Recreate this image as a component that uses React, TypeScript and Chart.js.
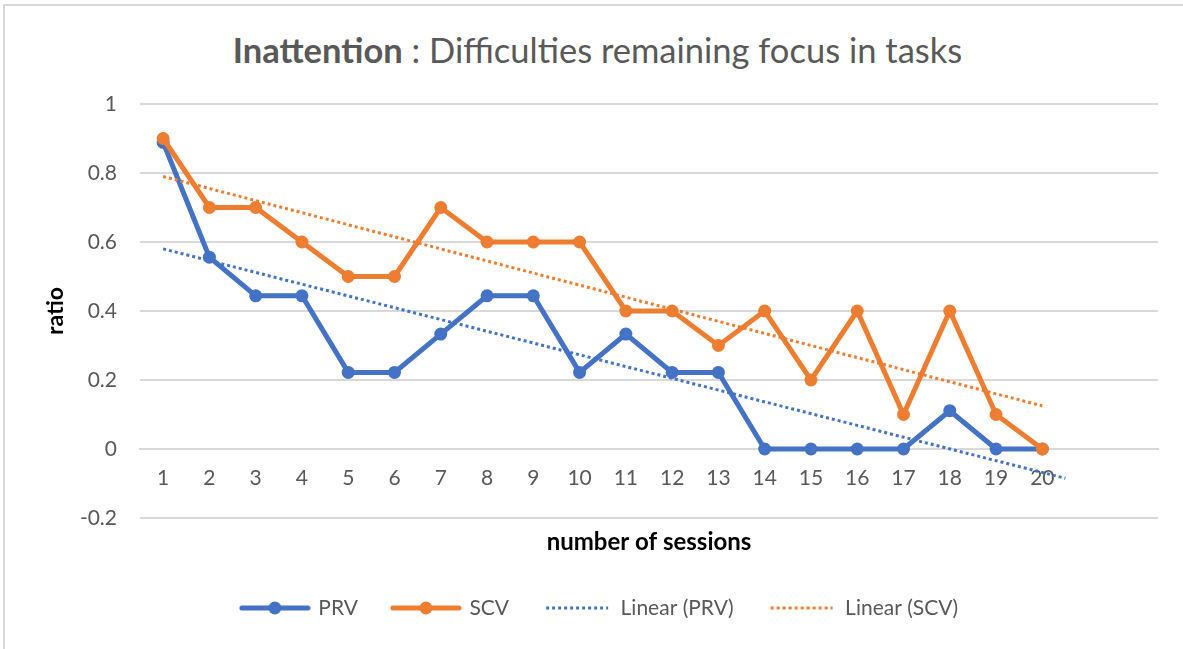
import React, { useEffect, useRef } from "react";
import { Chart, registerables } from "chart.js";

Chart.register(...registerables);

const sessions = [1, 2, 3, 4, 5, 6, 7, 8, 9, 10, 11, 12, 13, 14, 15, 16, 17, 18, 19, 20];
const prvValues = [0.889, 0.556, 0.444, 0.444, 0.222, 0.222, 0.333, 0.444, 0.444, 0.222, 0.333, 0.222, 0.222, 0, 0, 0, 0, 0.111, 0, 0];
const scvValues = [0.9, 0.7, 0.7, 0.6, 0.5, 0.5, 0.7, 0.6, 0.6, 0.6, 0.4, 0.4, 0.3, 0.4, 0.2, 0.4, 0.1, 0.4, 0.1, 0];
const prvTrendX = [1, 20.5];
const prvTrendY = [0.58, -0.085];
const scvTrendX = [1, 20];
const scvTrendY = [0.79, 0.125];
const yTicks = [-0.2, 0, 0.2, 0.4, 0.6, 0.8, 1];
const seriesNames = ["PRV", "SCV", "Linear (PRV)", "Linear (SCV)"];

const BLUE = "#4472C4";
const ORANGE = "#ED7D31";
const GRID = "#d9d9d9";
const TEXT = "#595959";
const FONT = "Lato, 'Open Sans', sans-serif";

function markerSample(color: string): HTMLCanvasElement {
  const c = document.createElement("canvas");
  c.width = 72;
  c.height = 16;
  const ctx = c.getContext("2d")!;
  ctx.strokeStyle = color;
  ctx.lineWidth = 5;
  ctx.lineCap = "round";
  ctx.beginPath();
  ctx.moveTo(3, 8);
  ctx.lineTo(69, 8);
  ctx.stroke();
  ctx.fillStyle = color;
  ctx.beginPath();
  ctx.arc(36, 8, 6.5, 0, Math.PI * 2);
  ctx.fill();
  return c;
}

function dottedSample(color: string): HTMLCanvasElement {
  const c = document.createElement("canvas");
  c.width = 64;
  c.height = 8;
  const ctx = c.getContext("2d")!;
  ctx.strokeStyle = color;
  ctx.lineWidth = 3;
  ctx.setLineDash([3, 3]);
  ctx.beginPath();
  ctx.moveTo(1, 4);
  ctx.lineTo(63, 4);
  ctx.stroke();
  return c;
}

export default function App() {
  const ref = useRef<HTMLCanvasElement | null>(null);

  useEffect(() => {
    if (!ref.current) return;
    const samples = [markerSample(BLUE), markerSample(ORANGE), dottedSample(BLUE), dottedSample(ORANGE)];
    const toPts = (xs: number[], ys: number[]) => xs.map((x, i) => ({ x, y: ys[i] }));

    const chart = new Chart(ref.current, {
      type: "line",
      data: {
        datasets: [
          {
            label: seriesNames[0],
            data: toPts(sessions, prvValues),
            borderColor: BLUE,
            backgroundColor: BLUE,
            borderWidth: 5,
            pointRadius: 6.5,
            pointBorderWidth: 0,
            pointBackgroundColor: BLUE,
            tension: 0,
            order: 3,
          },
          {
            label: seriesNames[1],
            data: toPts(sessions, scvValues),
            borderColor: ORANGE,
            backgroundColor: ORANGE,
            borderWidth: 5,
            pointRadius: 6.5,
            pointBorderWidth: 0,
            pointBackgroundColor: ORANGE,
            tension: 0,
            order: 2,
          },
          {
            label: seriesNames[2],
            data: toPts(prvTrendX, prvTrendY),
            borderColor: BLUE,
            backgroundColor: BLUE,
            borderWidth: 3,
            borderDash: [3, 3],
            pointRadius: 0,
            order: 1,
          },
          {
            label: seriesNames[3],
            data: toPts(scvTrendX, scvTrendY),
            borderColor: ORANGE,
            backgroundColor: ORANGE,
            borderWidth: 3,
            borderDash: [3, 3],
            pointRadius: 0,
            order: 0,
          },
        ],
      },
      options: {
        responsive: false,
        animation: false,
        events: [],
        layout: { padding: { top: 104, left: 42, right: 25, bottom: 20.5 } },
        scales: {
          x: {
            type: "linear",
            min: 0.5,
            max: 22.5,
            position: { y: 0 } as any,
            afterBuildTicks: (s: any) => {
              s.ticks = sessions.map((v) => ({ value: v }));
            },
            afterFit: (s: any) => {
              s.height = 0;
            },
            grid: { display: false, drawTicks: false },
            border: { display: true, color: GRID, width: 2 },
            ticks: {
              autoSkip: false,
              maxRotation: 0,
              padding: 17,
              color: TEXT,
              font: { family: FONT, size: 21 },
              callback: (v: any) => String(v),
            },
          },
          x2: {
            type: "linear",
            position: "bottom",
            min: 0.5,
            max: 22.5,
            afterFit: (s: any) => {
              s.height = 44.5;
            },
            grid: { display: false, drawTicks: false },
            border: { display: false },
            ticks: { display: false },
            title: {
              display: true,
              text: "number of sessions",
              color: "#000",
              font: { family: FONT, size: 24, weight: "bold" },
              padding: { top: 0, bottom: 6 },
            },
          },
          y: {
            type: "linear",
            min: -0.2,
            max: 1,
            afterBuildTicks: (s: any) => {
              s.ticks = yTicks.map((v) => ({ value: v }));
            },
            afterFit: (s: any) => {
              s.width = 98;
            },
            grid: { color: GRID, lineWidth: 2, drawTicks: false },
            border: { display: false },
            ticks: {
              padding: 23,
              color: TEXT,
              font: { family: FONT, size: 21 },
              callback: (v: any) => String(Number(Number(v).toFixed(1))),
            },
            title: {
              display: true,
              text: "ratio",
              color: "#000",
              font: { family: FONT, size: 23, weight: "bold" },
              padding: { top: 0, bottom: 0 },
            },
          },
        },
        plugins: {
          title: { display: false },
          tooltip: { enabled: false },
          legend: {
            display: true,
            position: "bottom",
            labels: {
              usePointStyle: true,
              pointStyleWidth: 66,
              padding: 35,
              color: TEXT,
              font: { family: FONT, size: 21 },
              sort: (a: any, b: any) => a.datasetIndex - b.datasetIndex,
              generateLabels: (c: any) => {
                const items = (Chart.defaults.plugins.legend.labels as any).generateLabels(c);
                return items.map((it: any, i: number) => ({ ...it, pointStyle: samples[it.datasetIndex ?? i] }));
              },
            },
          },
        },
      },
    });
    return () => chart.destroy();
  }, []);

  return (
    <div style={{ position: "absolute", left: 0, top: 0, width: 1183, height: 649, background: "#fff", overflow: "hidden" }}>
      <div
        style={{
          position: "absolute",
          left: 3,
          top: 4,
          width: 1185,
          height: 650,
          borderLeft: "2px solid #d9d9d9",
          borderTop: "2px solid #d9d9d9",
          boxSizing: "border-box",
        }}
      />
      <div
        style={{
          position: "absolute",
          left: 0,
          top: 28,
          width: 1195,
          textAlign: "center",
          fontFamily: FONT,
          fontSize: 34.5,
          color: TEXT,
          lineHeight: "44px",
          whiteSpace: "nowrap",
        }}
      >
        <span style={{ fontWeight: "bold" }}>Inattention</span> : Difficulties remaining focus in tasks
      </div>
      <canvas ref={ref} width={1183} height={649} style={{ position: "absolute", left: 0, top: 0 }} />
    </div>
  );
}
